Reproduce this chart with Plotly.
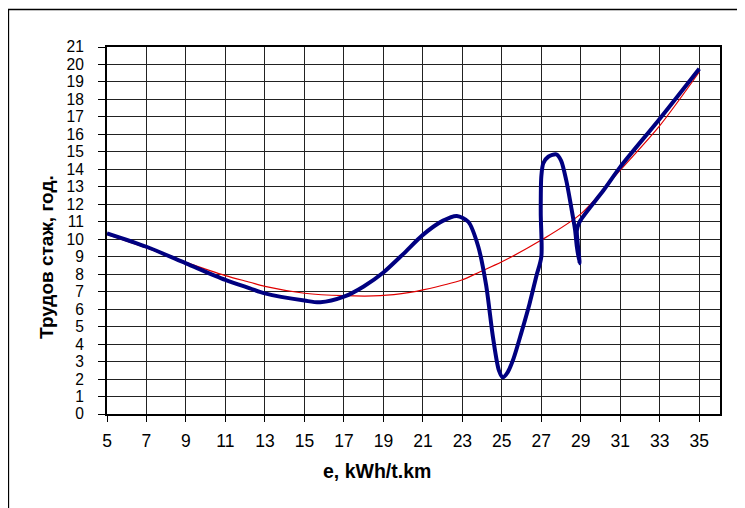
import plotly.graph_objects as go

# Blue curve (thick) - traced path
blue_x = [5, 7, 9, 11, 12.24, 13, 15, 15.8, 17, 18, 19, 20, 21, 22, 22.72, 23.3, 23.8, 24.2, 24.55, 24.85, 25.05,
          25.3, 25.6, 26.0, 26.4, 26.75, 27.0, 26.97, 27.0, 27.1, 27.35, 27.76, 28.0, 28.26, 28.51, 28.71, 28.8, 28.94,
          28.84, 28.8, 28.94, 30.15, 31, 33, 35]
blue_y = [10.34, 9.57, 8.62, 7.67, 7.19, 6.9, 6.49, 6.39, 6.71, 7.3, 8.1, 9.15, 10.25, 11.05, 11.33, 11.0, 9.6, 7.4, 4.4, 2.5, 2.1,
          2.4, 3.2, 4.7, 6.3, 7.9, 9.0, 11.5, 13.6, 14.35, 14.72, 14.86, 14.5, 13.38, 11.86, 10.53, 9.57, 8.62,
          9.8, 10.5, 11.0, 12.8, 14.14, 16.9, 19.76]

# Red trend curve (thin)
red_x = [5, 7, 9, 11, 12.24, 13, 15, 17, 18.84, 20.35, 21, 22.97, 23.9, 25, 27, 29, 31, 33, 35]
red_y = [10.28, 9.5, 8.68, 7.92, 7.54, 7.3, 6.91, 6.77, 6.77, 6.96, 7.1, 7.67, 8.14, 8.71, 9.95, 11.45, 13.95, 16.5, 19.57]

x_ticks = list(range(5, 36, 2))
y_ticks = list(range(0, 22))

x_title = "e, kWh/t.km"
y_title = "Трудов стаж, год."

FONT = "Liberation Sans, Arial, sans-serif"

# page body has an 8px default margin; compensate
OFF = 8
W, H = 745 - OFF, 508 - OFF
L, R, T, B = 107 - OFF, 720 - OFF, 47 - OFF, 414 - OFF

fig = go.Figure()
fig.add_trace(go.Scatter(x=red_x, y=red_y, mode="lines",
                         line=dict(color="#e00000", width=1.2, shape="spline", smoothing=0.8),
                         showlegend=False, hoverinfo="skip"))
fig.add_trace(go.Scatter(x=blue_x, y=blue_y, mode="lines",
                         line=dict(color="#000080", width=4, shape="spline", smoothing=0.8),
                         showlegend=False))


def px2paper_x(px):
    return (px - OFF - L) / (R - L)


def px2paper_y(py):
    return (B - (py - OFF)) / (B - T)


fig.update_layout(
    width=W, height=H,
    margin=dict(l=L, r=W - R, t=T, b=H - B, pad=0),
    paper_bgcolor="white", plot_bgcolor="white",
    font=dict(family=FONT, size=17.5, color="black"),
    xaxis=dict(range=[5, 36.05], tickvals=x_ticks, ticktext=[str(v) for v in x_ticks],
               showgrid=True, gridcolor="#222222", gridwidth=1,
               ticks="outside", ticklen=6, tickcolor="black", tickwidth=1,
               ticklabelstandoff=4,
               showline=True, linecolor="black", linewidth=2, mirror=True,
               zeroline=False, tickfont=dict(size=17.5)),
    yaxis=dict(range=[0, 21], tickvals=y_ticks, ticktext=[str(v) for v in y_ticks],
               showgrid=True, gridcolor="#222222", gridwidth=1,
               ticks="outside", ticklen=7, tickcolor="black", tickwidth=1,
               ticklabelstandoff=11,
               showline=True, linecolor="black", linewidth=2, mirror=True,
               zeroline=False, tickfont=dict(size=15.6)),
    annotations=[
        dict(text="<b>" + x_title + "</b>", xref="paper", yref="paper",
             x=px2paper_x(377), y=px2paper_y(471), xanchor="center", yanchor="middle",
             showarrow=False, font=dict(size=19.5, family=FONT)),
        dict(text="<b>" + y_title + "</b>", xref="paper", yref="paper",
             x=px2paper_x(46), y=px2paper_y(257), xanchor="center", yanchor="middle",
             textangle=-90, showarrow=False, font=dict(size=19, family=FONT)),
    ],
    shapes=[
        dict(type="rect", xref="paper", yref="paper",
             x0=px2paper_x(8.5), x1=px2paper_x(790), y0=px2paper_y(560), y1=px2paper_y(9.5),
             line=dict(color="black", width=1.3), fillcolor="rgba(0,0,0,0)", layer="below"),
    ],
)

fig.write_html("out.html")
